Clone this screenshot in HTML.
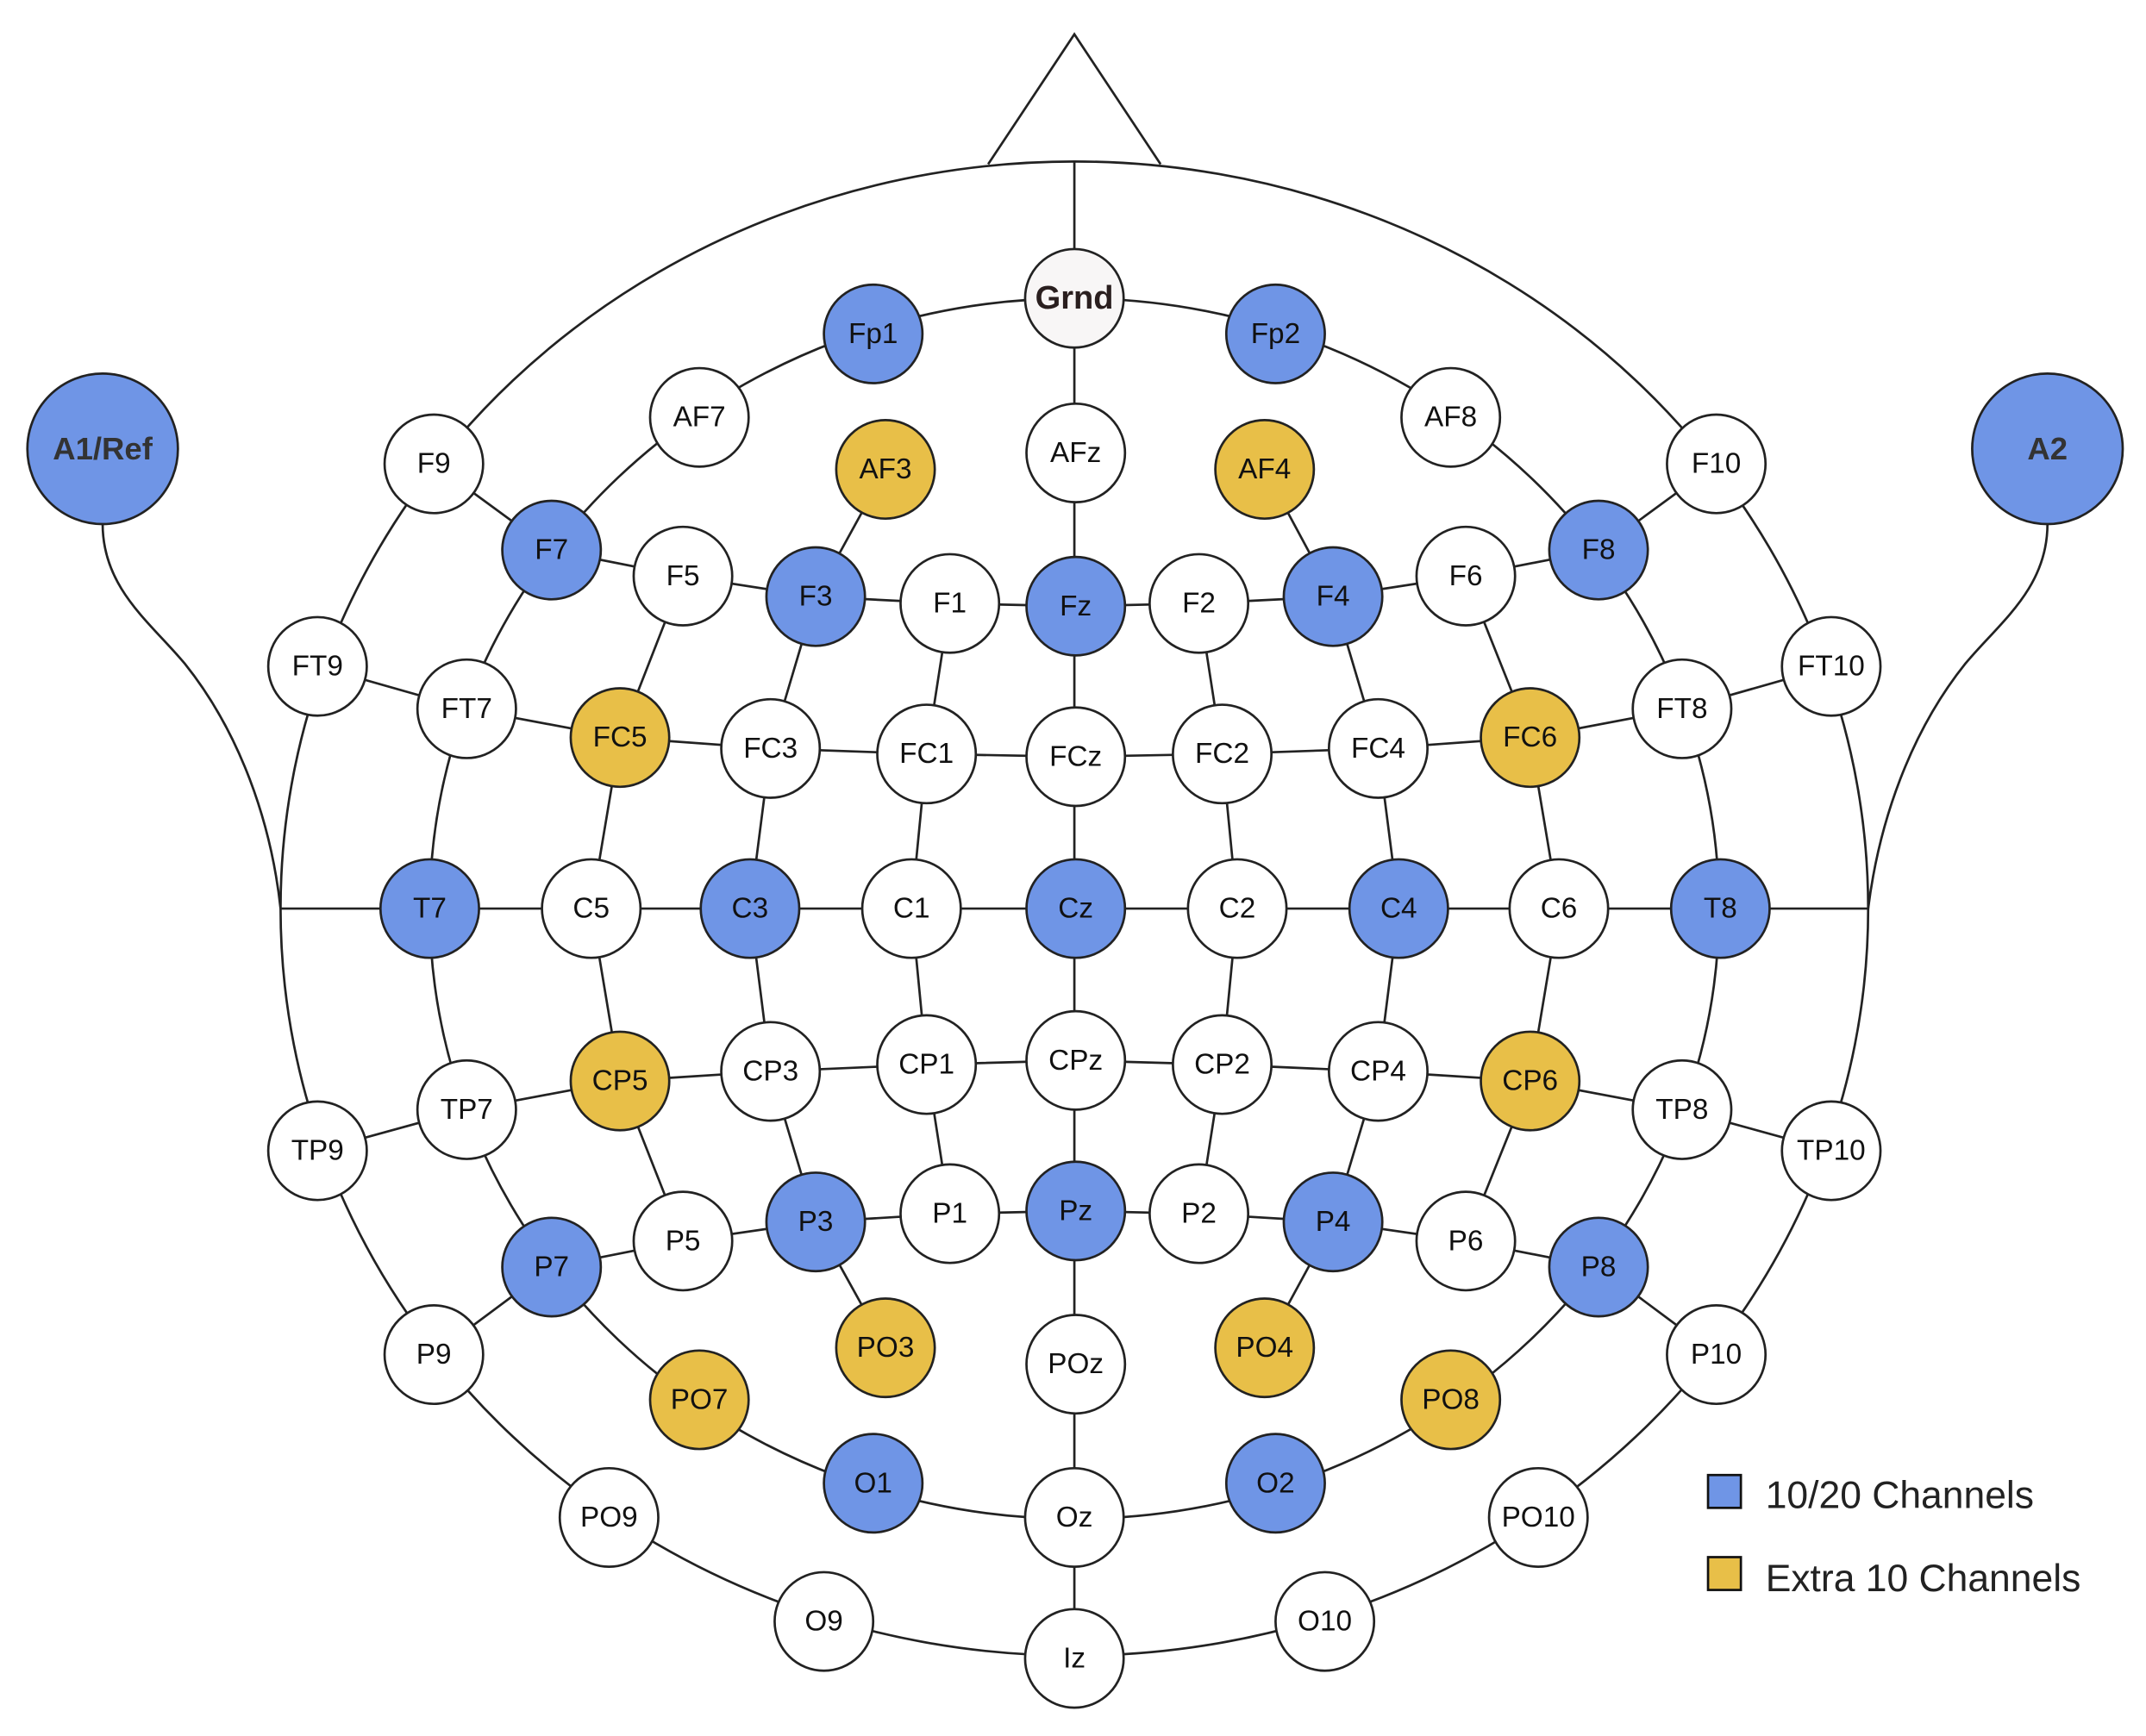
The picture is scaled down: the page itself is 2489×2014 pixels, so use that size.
<!DOCTYPE html>
<html><head><meta charset="utf-8"><style>html,body{margin:0;padding:0;background:#fff}svg{display:block}</style></head>
<body>
<svg width="2489" height="2014" viewBox="0 0 1568 1268.7" xmlns="http://www.w3.org/2000/svg" font-family="Liberation Sans, Arial, sans-serif">
<rect width="1568" height="1269" fill="#fff"/>
<g fill="none" stroke="#222" stroke-width="1.7">
<polyline points="722,120 785,25 848,120"/>
<ellipse cx="785" cy="664" rx="580" ry="546"/>
<ellipse cx="785" cy="664" rx="471" ry="446"/>
<line x1="785" y1="118" x2="785" y2="1212"/>
<line x1="205" y1="664" x2="1365" y2="664"/>
<path d="M75,383 C75,430 110,455 135,485 C175,535 198,600 205,664"/>
<path d="M1496,383 C1496,430 1461,455 1436,485 C1396,535 1373,600 1365,664"/>
<polyline points="317,339 403,402 499,421 596,436 694,441 786,443 876,441 974,436 1071,421 1168,402 1254,339"/>
<polyline points="232,487 341,518 453,539 563,547 677,551 786,553 893,551 1007,547 1118,539 1229,518 1338,487"/>
<polyline points="232,841 341,811 453,790 563,783 677,778 786,775 893,778 1007,783 1118,790 1229,811 1338,841"/>
<polyline points="317,990 403,926 499,907 596,893 694,887 786,885 876,887 974,893 1071,907 1168,926 1254,990"/>
<polyline points="647,343 596,436 563,547 548,664 563,783 596,893 647,985"/>
<polyline points="924,343 974,436 1007,547 1022,664 1007,783 974,893 924,985"/>
<polyline points="499,421 453,539 432,664 453,790 499,907"/>
<polyline points="1071,421 1118,539 1139,664 1118,790 1071,907"/>
<polyline points="694,441 677,551 666,664 677,778 694,887"/>
<polyline points="876,441 893,551 904,664 893,778 876,887"/>
</g>
<g stroke="#222" stroke-width="1.7">
<g fill="#6f95e6">
<circle cx="638" cy="244" r="36"/><circle cx="932" cy="244" r="36"/>
<circle cx="403" cy="402" r="36"/><circle cx="1168" cy="402" r="36"/>
<circle cx="596" cy="436" r="36"/><circle cx="786" cy="443" r="36"/><circle cx="974" cy="436" r="36"/>
<circle cx="314" cy="664" r="36"/><circle cx="548" cy="664" r="36"/><circle cx="786" cy="664" r="36"/><circle cx="1022" cy="664" r="36"/><circle cx="1257" cy="664" r="36"/>
<circle cx="403" cy="926" r="36"/><circle cx="596" cy="893" r="36"/><circle cx="786" cy="885" r="36"/><circle cx="974" cy="893" r="36"/><circle cx="1168" cy="926" r="36"/>
<circle cx="638" cy="1084" r="36"/><circle cx="932" cy="1084" r="36"/>
<circle cx="75" cy="328" r="55"/><circle cx="1496" cy="328" r="55"/>
</g>
<g fill="#e8bf48">
<circle cx="647" cy="343" r="36"/><circle cx="924" cy="343" r="36"/>
<circle cx="453" cy="539" r="36"/><circle cx="1118" cy="539" r="36"/>
<circle cx="453" cy="790" r="36"/><circle cx="1118" cy="790" r="36"/>
<circle cx="647" cy="985" r="36"/><circle cx="924" cy="985" r="36"/>
<circle cx="511" cy="1023" r="36"/><circle cx="1060" cy="1023" r="36"/>
</g>
<g fill="#fff">
<circle cx="785" cy="218" r="36" fill="#f8f6f6"/>
<circle cx="511" cy="305" r="36"/><circle cx="1060" cy="305" r="36"/><circle cx="786" cy="331" r="36"/>
<circle cx="317" cy="339" r="36"/><circle cx="1254" cy="339" r="36"/>
<circle cx="499" cy="421" r="36"/><circle cx="694" cy="441" r="36"/><circle cx="876" cy="441" r="36"/><circle cx="1071" cy="421" r="36"/>
<circle cx="232" cy="487" r="36"/><circle cx="1338" cy="487" r="36"/><circle cx="341" cy="518" r="36"/><circle cx="1229" cy="518" r="36"/>
<circle cx="563" cy="547" r="36"/><circle cx="677" cy="551" r="36"/><circle cx="786" cy="553" r="36"/><circle cx="893" cy="551" r="36"/><circle cx="1007" cy="547" r="36"/>
<circle cx="432" cy="664" r="36"/><circle cx="666" cy="664" r="36"/><circle cx="904" cy="664" r="36"/><circle cx="1139" cy="664" r="36"/>
<circle cx="232" cy="841" r="36"/><circle cx="1338" cy="841" r="36"/><circle cx="341" cy="811" r="36"/><circle cx="1229" cy="811" r="36"/>
<circle cx="563" cy="783" r="36"/><circle cx="677" cy="778" r="36"/><circle cx="786" cy="775" r="36"/><circle cx="893" cy="778" r="36"/><circle cx="1007" cy="783" r="36"/>
<circle cx="317" cy="990" r="36"/><circle cx="1254" cy="990" r="36"/>
<circle cx="499" cy="907" r="36"/><circle cx="694" cy="887" r="36"/><circle cx="876" cy="887" r="36"/><circle cx="1071" cy="907" r="36"/>
<circle cx="786" cy="997" r="36"/>
<circle cx="445" cy="1109" r="36"/><circle cx="785" cy="1109" r="36"/><circle cx="1124" cy="1109" r="36"/>
<circle cx="602" cy="1185" r="36"/><circle cx="785" cy="1212" r="36"/><circle cx="968" cy="1185" r="36"/>
</g>
</g>
<g font-size="21" fill="#111" text-anchor="middle" dominant-baseline="central">
<text x="785" y="218" font-size="24" font-weight="bold" fill="#2a1f1f">Grnd</text>
<text x="75" y="328" font-size="23" font-weight="bold" fill="#333">A1/Ref</text>
<text x="1496" y="328" font-size="23" font-weight="bold" fill="#333">A2</text>
<text x="638" y="244">Fp1</text><text x="932" y="244">Fp2</text>
<text x="511" y="305">AF7</text><text x="1060" y="305">AF8</text>
<text x="647" y="343">AF3</text><text x="786" y="331">AFz</text><text x="924" y="343">AF4</text>
<text x="317" y="339">F9</text><text x="1254" y="339">F10</text>
<text x="403" y="402">F7</text><text x="499" y="421">F5</text><text x="596" y="436">F3</text><text x="694" y="441">F1</text><text x="786" y="443">Fz</text><text x="876" y="441">F2</text><text x="974" y="436">F4</text><text x="1071" y="421">F6</text><text x="1168" y="402">F8</text>
<text x="232" y="487">FT9</text><text x="341" y="518">FT7</text><text x="453" y="539">FC5</text><text x="563" y="547">FC3</text><text x="677" y="551">FC1</text><text x="786" y="553">FCz</text><text x="893" y="551">FC2</text><text x="1007" y="547">FC4</text><text x="1118" y="539">FC6</text><text x="1229" y="518">FT8</text><text x="1338" y="487">FT10</text>
<text x="314" y="664">T7</text><text x="432" y="664">C5</text><text x="548" y="664">C3</text><text x="666" y="664">C1</text><text x="786" y="664">Cz</text><text x="904" y="664">C2</text><text x="1022" y="664">C4</text><text x="1139" y="664">C6</text><text x="1257" y="664">T8</text>
<text x="232" y="841">TP9</text><text x="341" y="811">TP7</text><text x="453" y="790">CP5</text><text x="563" y="783">CP3</text><text x="677" y="778">CP1</text><text x="786" y="775">CPz</text><text x="893" y="778">CP2</text><text x="1007" y="783">CP4</text><text x="1118" y="790">CP6</text><text x="1229" y="811">TP8</text><text x="1338" y="841">TP10</text>
<text x="317" y="990">P9</text><text x="403" y="926">P7</text><text x="499" y="907">P5</text><text x="596" y="893">P3</text><text x="694" y="887">P1</text><text x="786" y="885">Pz</text><text x="876" y="887">P2</text><text x="974" y="893">P4</text><text x="1071" y="907">P6</text><text x="1168" y="926">P8</text><text x="1254" y="990">P10</text>
<text x="511" y="1023">PO7</text><text x="647" y="985">PO3</text><text x="786" y="997">POz</text><text x="924" y="985">PO4</text><text x="1060" y="1023">PO8</text>
<text x="445" y="1109">PO9</text><text x="638" y="1084">O1</text><text x="785" y="1109">Oz</text><text x="932" y="1084">O2</text><text x="1124" y="1109">PO10</text>
<text x="602" y="1185">O9</text><text x="785" y="1212">Iz</text><text x="968" y="1185">O10</text>
</g>
<rect x="1248" y="1078" width="24" height="24" fill="#6f95e6" stroke="#111" stroke-width="1.7"/>
<rect x="1248" y="1138" width="24" height="24" fill="#e8bf48" stroke="#111" stroke-width="1.7"/>
<text x="1290" y="1102" font-size="28" fill="#222">10/20 Channels</text>
<text x="1290" y="1163" font-size="28" fill="#222">Extra 10 Channels</text>
</svg>
</body></html>
